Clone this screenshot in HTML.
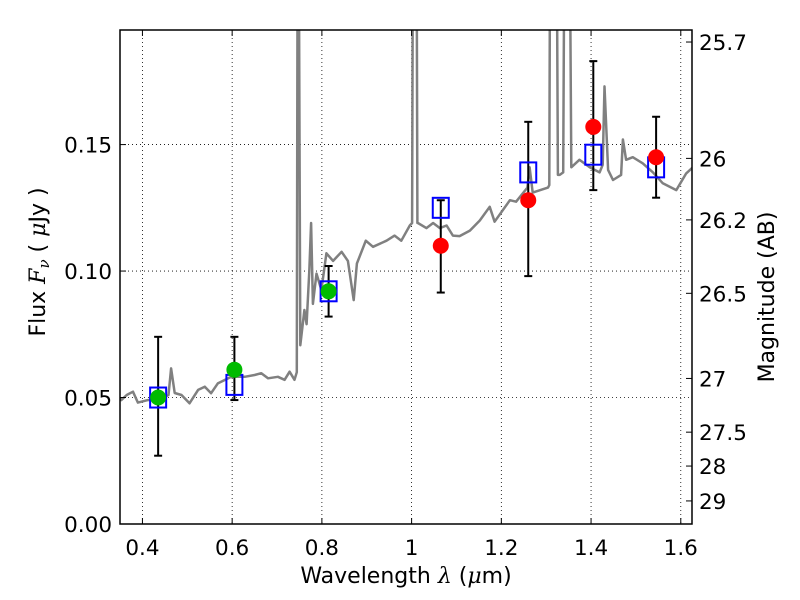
<!DOCTYPE html>
<html><head><meta charset="utf-8"><style>
body{margin:0;background:#fff;}
svg{display:block;font-family:"DejaVu Sans","Liberation Sans",sans-serif;}
</style></head><body>
<svg id="chart" width="800" height="600" viewBox="0 0 800 600" xmlns="http://www.w3.org/2000/svg">
<defs><clipPath id="clip"><rect x="120" y="30" width="572" height="494"/></clipPath></defs>
<rect width="800" height="600" fill="#fff"/>
<g id="grid"></g>
<g id="spec" clip-path="url(#clip)"></g>
<g id="marks"></g>
<rect x="120" y="30" width="572" height="494" fill="none" stroke="#000" stroke-width="1.5"/>
<g id="axes"></g>
<text x="406" y="583" font-size="22" text-anchor="middle">Wavelength  <tspan font-style="italic" font-family="'DejaVu Serif',serif">λ</tspan> (<tspan font-style="italic" font-family="'DejaVu Serif',serif">μ</tspan>m)</text>
<text transform="translate(45,262) rotate(-90)" font-size="22" text-anchor="middle">Flux  <tspan font-style="italic" font-family="'DejaVu Serif',serif">F</tspan><tspan font-style="italic" font-family="'DejaVu Serif',serif" font-size="15" dy="4">ν</tspan><tspan dy="-4">  (  </tspan><tspan font-style="italic" font-family="'DejaVu Serif',serif">μ</tspan>Jy )</text>
<text transform="translate(774,297) rotate(-90)" font-size="22" text-anchor="middle">Magnitude (AB)</text>
</svg>
<script>
const xTicks=[0.4,0.6,0.8,1.0,1.2,1.4,1.6];
const xTickLabels=["0.4","0.6","0.8","1","1.2","1.4","1.6"];
const yTicks=[0,0.05,0.10,0.15];
const yTickLabels=["0.00","0.05","0.10","0.15"];
const magTicks=[25.7,26,26.2,26.5,27,27.5,28,29];
const magTickLabels=["25.7","26","26.2","26.5","27","27.5","28","29"];
const specWave=[0.35,0.353,0.365,0.379,0.39,0.412,0.442,0.458,0.464,0.472,0.487,0.505,0.524,0.539,0.553,0.568,0.598,0.628,0.65,0.665,0.68,0.702,0.717,0.728,0.739,0.744,0.746,0.748,0.752,0.761,0.766,0.772,0.776,0.780,0.788,0.799,0.810,0.825,0.844,0.858,0.871,0.878,0.898,0.914,0.944,0.962,0.977,0.996,1.001,1.003,1.011,1.013,1.014,1.033,1.048,1.063,1.078,1.092,1.107,1.13,1.152,1.174,1.185,1.219,1.233,1.258,1.263,1.270,1.304,1.307,1.309,1.323,1.326,1.33,1.338,1.341,1.348,1.352,1.356,1.374,1.397,1.419,1.426,1.430,1.438,1.449,1.467,1.471,1.478,1.493,1.515,1.538,1.56,1.59,1.612,1.627];
const specFlux=[0.050,0.049,0.051,0.0523,0.048,0.049,0.0497,0.051,0.0615,0.0518,0.051,0.0477,0.053,0.0543,0.0517,0.0556,0.0582,0.0582,0.0589,0.0596,0.0576,0.0582,0.057,0.0602,0.057,0.060,0.25,0.25,0.0707,0.0846,0.079,0.100,0.119,0.087,0.099,0.0925,0.107,0.104,0.1076,0.104,0.0885,0.103,0.112,0.1096,0.112,0.114,0.112,0.118,0.119,0.25,0.25,0.119,0.119,0.117,0.119,0.117,0.118,0.114,0.1138,0.116,0.120,0.1254,0.1195,0.128,0.1274,0.133,0.141,0.131,0.133,0.134,0.25,0.25,0.138,0.138,0.139,0.25,0.25,0.25,0.141,0.144,0.141,0.139,0.142,0.173,0.14,0.136,0.138,0.152,0.144,0.145,0.1426,0.139,0.1347,0.132,0.1386,0.141];
const greenWave=[0.435,0.605,0.815];
const greenFlux=[0.050,0.061,0.092];
const redWave=[1.065,1.26,1.405,1.545];
const redFlux=[0.110,0.128,0.157,0.145];
const sqWave=[0.435,0.605,0.815,1.065,1.26,1.405,1.545];
const sqFlux=[0.050,0.055,0.092,0.125,0.139,0.146,0.141];
const errWave=[0.435,0.605,0.815,1.065,1.26,1.405,1.545];
const errLow=[0.027,0.049,0.082,0.0915,0.098,0.132,0.129];
const errHigh=[0.074,0.074,0.102,0.128,0.159,0.183,0.161];

const NS="http://www.w3.org/2000/svg";
const X0=120,X1=692,Y0=524,Y1=30,XMIN=0.35,XMAX=1.625,YMIN=0,YMAX=0.1953;
const xs=v=>X0+(v-XMIN)/(XMAX-XMIN)*(X1-X0);
const ys=v=>Y0-(v-YMIN)/(YMAX-YMIN)*(Y0-Y1);
const magToFlux=m=>Math.pow(10,(23.9-m)/2.5);
function mk(tag,attrs,parent){const e=document.createElementNS(NS,tag);for(const k in attrs)e.setAttribute(k,attrs[k]);parent.appendChild(e);return e;}
const grid=document.getElementById('grid'),axes=document.getElementById('axes'),spec=document.getElementById('spec'),marks=document.getElementById('marks');

xTicks.forEach((t,i)=>{
  const x=xs(t);
  const g=mk('line',{x1:x,x2:x,y1:Y1,y2:Y0,stroke:'#000','stroke-width':0.8,'stroke-dasharray':'1,3'},grid);
  
  
  const tk=mk('line',{x1:x,x2:x,y1:Y0,y2:Y0-6,stroke:'#000','stroke-width':1},axes);
  
  
  const tk2=mk('line',{x1:x,x2:x,y1:Y1,y2:Y1+6,stroke:'#000','stroke-width':1},axes);
  
  
  const lb=mk('text',{x:x,y:Y0+31,'font-size':21.5,'text-anchor':'middle'},axes);
  lb.textContent=xTickLabels[i];
  
  
});
yTicks.forEach((t,i)=>{
  const y=ys(t);
  const g=mk('line',{x1:X0,x2:X1,y1:y,y2:y,stroke:'#000','stroke-width':0.8,'stroke-dasharray':'1,3'},grid);
  
  
  const tk=mk('line',{x1:X0,x2:X0+6,y1:y,y2:y,stroke:'#000','stroke-width':1},axes);
  
  
  const lb=mk('text',{x:X0-8,y:y+8,'font-size':21.5,'text-anchor':'end'},axes);
  lb.textContent=yTickLabels[i];
  
  
});
magTicks.forEach((m,i)=>{
  const y=ys(magToFlux(m));
  const tk=mk('line',{x1:X1,x2:X1-6,y1:y,y2:y,stroke:'#000','stroke-width':1},axes);
  
  
  const lb=mk('text',{x:X1+7,y:y+8,'font-size':21.5,'text-anchor':'start'},axes);
  lb.textContent=magTickLabels[i];
  
  
});

const pts=specWave.map((w,i)=>xs(w).toFixed(1)+','+ys(specFlux[i]).toFixed(1)).join(' ');
const pl=mk('polyline',{points:pts,fill:'none',stroke:'#808080','stroke-width':2.5,'stroke-linejoin':'round'},spec);



errWave.forEach((w,i)=>{
  const x=xs(w),ya=ys(errLow[i]),yb=ys(errHigh[i]);
  const g=mk('g',{},marks);
  
  
  mk('line',{x1:x,x2:x,y1:ya,y2:yb,stroke:'#000','stroke-width':2},g);
  mk('line',{x1:x-4,x2:x+4,y1:ya,y2:ya,stroke:'#000','stroke-width':2},g);
  mk('line',{x1:x-4,x2:x+4,y1:yb,y2:yb,stroke:'#000','stroke-width':2},g);
});
sqWave.forEach((w,i)=>{
  const r=mk('rect',{x:xs(w)-8,y:ys(sqFlux[i])-10,width:16,height:20,fill:'none',stroke:'#0000ff','stroke-width':2},marks);
  
  
});
greenWave.forEach((w,i)=>{
  const c=mk('circle',{cx:xs(w),cy:ys(greenFlux[i]),r:8,fill:'#00bb00'},marks);
  
  
});
redWave.forEach((w,i)=>{
  const c=mk('circle',{cx:xs(w),cy:ys(redFlux[i]),r:8,fill:'#ff0000'},marks);
  
  
});
</script>
</body></html>
